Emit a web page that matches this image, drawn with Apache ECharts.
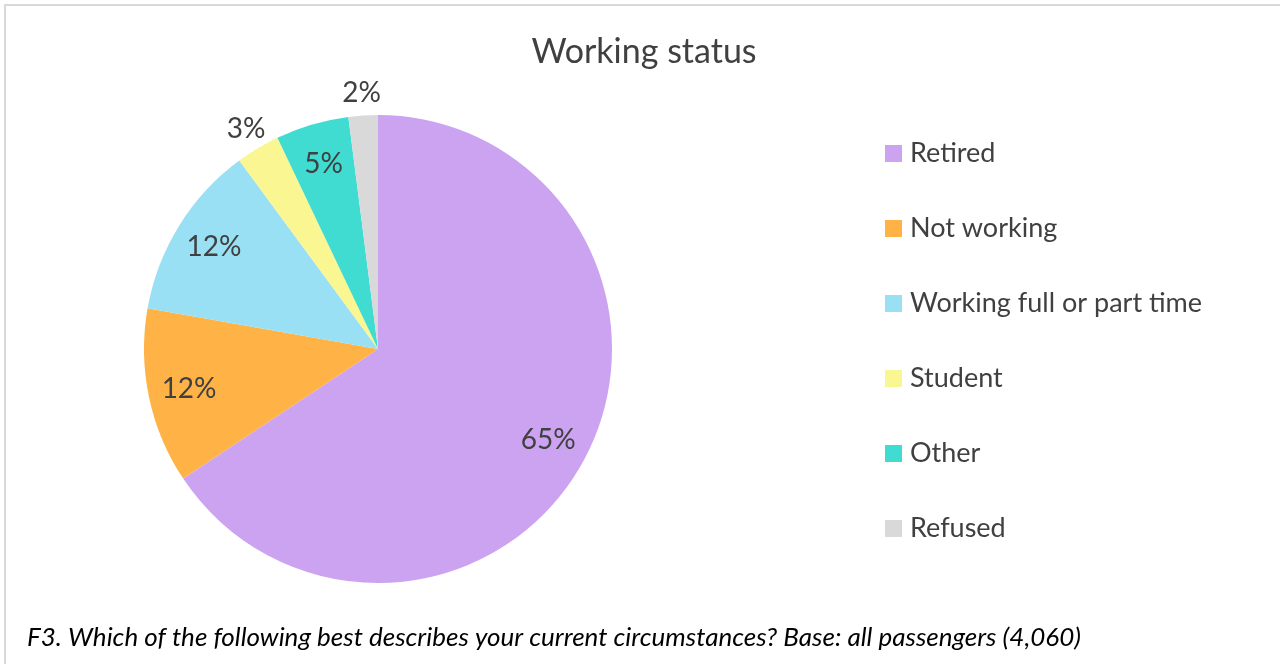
<!DOCTYPE html>
<html>
<head>
<meta charset="utf-8">
<title>Working status</title>
<script src="https://cdn.jsdelivr.net/npm/echarts@6/dist/echarts.min.js"></script>
<style>
  html, body { margin: 0; padding: 0; background: #fff; }
  #chart { width: 1280px; height: 664px; }
</style>
</head>
<body>
<div id="chart"></div>
<script>
// Survey responses: share of passengers by working status (%)
const categories = ['Retired', 'Not working', 'Working full or part time', 'Student', 'Other', 'Refused'];
const shares = [65, 12, 12, 3, 5, 2];
const colors = ['#CBA3F1', '#FFB347', '#99E0F4', '#FAF691', '#40DCD2', '#D9D9D9'];
// Small slices get their label just outside the rim
const outsideLabel = [false, false, false, true, false, true];

const FONT = 'Lato, "Open Sans", sans-serif';
const TEXT = '#404040';
const CENTER = [378, 349];
const R = 234;

const total = shares.reduce((a, b) => a + b, 0);
// Mid angle of each slice, clockwise from 12 o'clock (radians)
const midAngles = (() => {
  let acc = 0;
  return shares.map(v => { const m = (acc + v / 2) / total * 2 * Math.PI; acc += v; return m; });
})();

const pieData = categories.map((name, i) => ({
  name, value: shares[i], itemStyle: { color: colors[i] }
}));

// Transparent ring used only to position a set of labels
function labelRing(inner, outer, showFn, alignFn) {
  return {
    type: 'pie',
    silent: true,
    clockwise: true,
    startAngle: 90,
    center: CENTER,
    radius: [inner, outer],
    legendHoverLink: false,
    tooltip: { show: false },
    itemStyle: { color: 'rgba(0,0,0,0)' },
    emphasis: { disabled: true },
    labelLine: { show: false },
    data: categories.map((name, i) => ({
      name, value: shares[i],
      label: { show: showFn(i), align: alignFn ? alignFn(i) : 'center' }
    })),
    label: {
      position: 'inside',
      formatter: p => p.value + '%',
      fontFamily: FONT,
      fontSize: 28,
      color: TEXT
    },
    z: 3
  };
}

const chart = echarts.init(document.getElementById('chart'), null, { renderer: 'canvas' });
chart.setOption({
  animation: false,
  backgroundColor: '#fff',
  title: {
    text: 'Working status',
    left: 639, top: 30,
    textAlign: 'center',
    textStyle: { fontFamily: FONT, fontSize: 34, fontWeight: 'normal', color: TEXT }
  },
  legend: {
    orient: 'vertical',
    left: 880, top: 135,
    itemWidth: 17, itemHeight: 17,
    itemGap: 48,
    icon: 'rect',
    data: categories,
    textStyle: { fontFamily: FONT, fontSize: 27, color: TEXT, lineHeight: 27, padding: [0, 0, 0, 3] },
    selectedMode: false
  },
  graphic: [
    {
      type: 'rect',
      shape: { x: 5, y: 5, width: 1290, height: 680 },
      style: { fill: 'none', stroke: '#D9D9D9', lineWidth: 2 },
      silent: true
    },
    {
      type: 'text',
      left: 27, top: 625,
      style: {
        text: 'F3. Which of the following best describes your current circumstances? Base: all passengers (4,060)',
        fontFamily: FONT, fontSize: 26, fontStyle: 'italic', fill: '#000'
      }
    }
  ],
  series: [
    {
      type: 'pie',
      name: 'Working status',
      clockwise: true,
      startAngle: 90,
      center: CENTER,
      radius: [0, R],
      label: { show: false },
      labelLine: { show: false },
      emphasis: { scale: false },
      data: pieData,
      z: 2
    },
    labelRing(146, R, i => !outsideLabel[i]),
    // outside labels lean away from the pie when they sit well off to one side
    labelRing(R, R + 40, i => outsideLabel[i],
      i => Math.sin(midAngles[i]) < -0.3 ? 'right' : (Math.sin(midAngles[i]) > 0.3 ? 'left' : 'center'))
  ]
});
</script>
</body>
</html>
